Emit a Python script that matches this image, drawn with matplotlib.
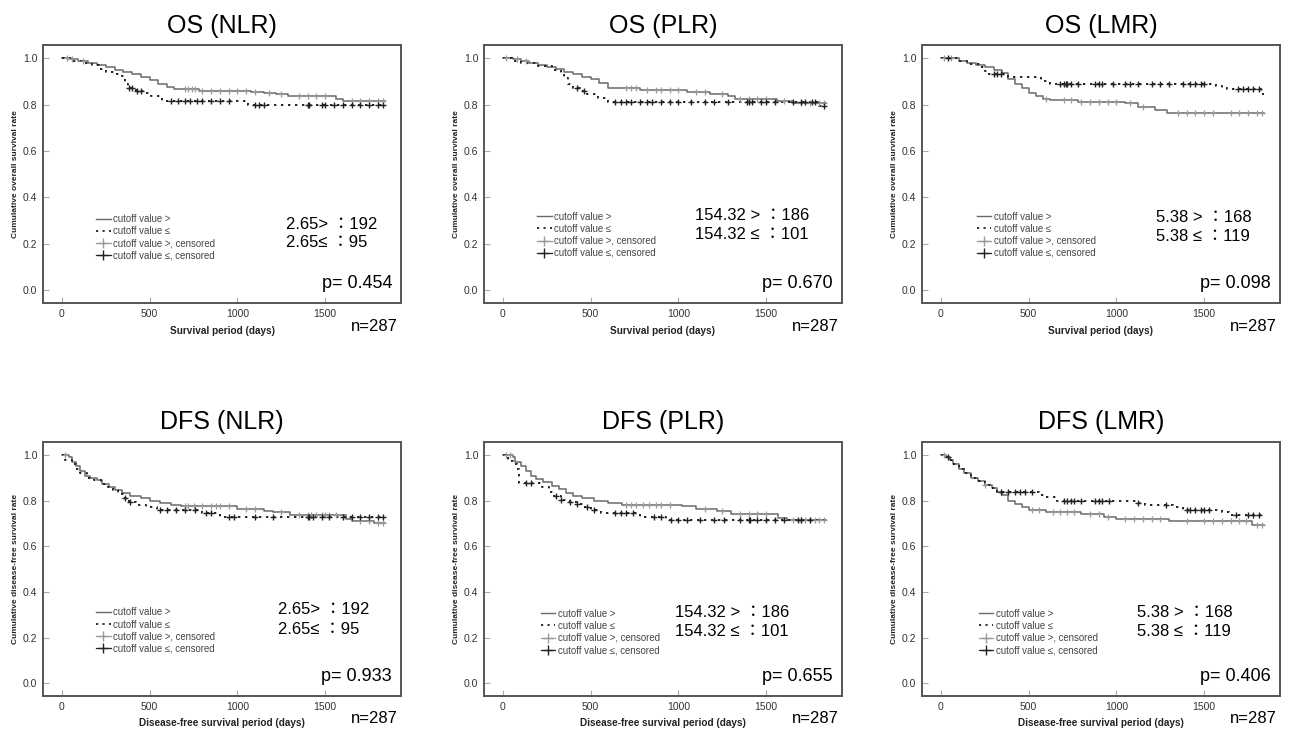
import numpy as np
import matplotlib
matplotlib.use("Agg")
import matplotlib.pyplot as plt
from matplotlib.lines import Line2D

plt.rcParams['font.family'] = ['Liberation Sans', 'DejaVu Sans']

# ---------------- data ----------------
titles = ["OS (NLR)", "OS (PLR)", "OS (LMR)", "DFS (NLR)", "DFS (PLR)", "DFS (LMR)"]
xlabels = ["Survival period (days)"] * 3 + ["Disease-free survival period (days)"] * 3
ylabels = ["Cumulative overall survival rate"] * 3 + ["Cumulative disease-free survival rate"] * 3
group_hi = ["2.65> ：192", "154.32 > ：186", "5.38 > ：168",
            "2.65> ：192", "154.32 > ：186", "5.38 > ：168"]
group_lo = ["2.65≤ ：95", "154.32 ≤ ：101", "5.38 ≤ ：119",
            "2.65≤ ：95", "154.32 ≤ ：101", "5.38 ≤ ：119"]
pvals = ["p= 0.454", "p= 0.670", "p= 0.098", "p= 0.933", "p= 0.655", "p= 0.406"]
n_text = "n=287"
legend_labels = ["cutoff value >", "cutoff value ≤",
                 "cutoff value >, censored", "cutoff value ≤, censored"]
x_ticks = [0, 500, 1000, 1500]
y_ticks = [0.0, 0.2, 0.4, 0.6, 0.8, 1.0]
follow_end = 1840

# OS NLR
os_nlr_hi_t = [40, 90, 150, 200, 250, 300, 350, 400, 450, 500, 550, 600, 640, 780, 1080, 1150, 1220, 1290, 1560, 1600]
os_nlr_hi_s = [0.995, 0.99, 0.98, 0.97, 0.96, 0.95, 0.94, 0.93, 0.92, 0.905, 0.89, 0.875, 0.866, 0.86, 0.855, 0.85, 0.845, 0.835, 0.825, 0.815]
os_nlr_hi_c = [30, 60, 120, 700, 720, 740, 760, 800, 850, 900, 950, 1000, 1050, 1100, 1180, 1250, 1350, 1400, 1450, 1500, 1650, 1700, 1750, 1800, 1830]
os_nlr_lo_t = [60, 120, 170, 210, 250, 300, 340, 360, 375, 420, 470, 510, 570, 1060]
os_nlr_lo_s = [0.99, 0.98, 0.97, 0.955, 0.94, 0.93, 0.925, 0.89, 0.87, 0.86, 0.85, 0.835, 0.815, 0.797]
os_nlr_lo_c = [380, 400, 430, 450, 620, 660, 700, 730, 770, 800, 850, 900, 950, 1100, 1120, 1150, 1400, 1410, 1480, 1500, 1550, 1600, 1650, 1700, 1750, 1800, 1830]

# OS PLR
os_plr_hi_t = [60, 100, 150, 200, 250, 300, 350, 400, 450, 500, 550, 600, 780, 1050, 1180, 1280, 1320, 1560, 1650]
os_plr_hi_s = [0.995, 0.99, 0.98, 0.97, 0.96, 0.955, 0.94, 0.93, 0.92, 0.91, 0.895, 0.87, 0.865, 0.855, 0.845, 0.835, 0.826, 0.815, 0.808]
os_plr_hi_c = [20, 80, 130, 700, 730, 760, 820, 870, 900, 950, 1000, 1100, 1150, 1250, 1350, 1400, 1450, 1500, 1600, 1700, 1750, 1800, 1830]
os_plr_lo_t = [50, 100, 200, 280, 330, 350, 370, 400, 440, 480, 540, 600, 1800]
os_plr_lo_s = [0.99, 0.98, 0.965, 0.95, 0.935, 0.915, 0.89, 0.87, 0.86, 0.845, 0.83, 0.812, 0.795]
os_plr_lo_c = [420, 460, 640, 670, 700, 730, 780, 820, 850, 900, 950, 1000, 1070, 1150, 1200, 1280, 1390, 1400, 1420, 1470, 1500, 1550, 1650, 1700, 1720, 1760, 1780, 1830]

# OS LMR
os_lmr_hi_t = [100, 150, 200, 250, 300, 350, 380, 420, 460, 500, 540, 580, 620, 780, 1050, 1120, 1220, 1290]
os_lmr_hi_s = [0.99, 0.98, 0.97, 0.96, 0.95, 0.935, 0.91, 0.89, 0.87, 0.85, 0.835, 0.825, 0.818, 0.812, 0.805, 0.79, 0.775, 0.765]
os_lmr_hi_c = [20, 60, 600, 700, 740, 800, 850, 900, 950, 1000, 1080, 1150, 1350, 1400, 1450, 1500, 1550, 1650, 1700, 1750, 1800, 1830]
os_lmr_lo_t = [100, 150, 220, 250, 270, 380, 570, 620, 1570, 1600, 1630, 1825]
os_lmr_lo_s = [0.99, 0.975, 0.96, 0.945, 0.932, 0.92, 0.9, 0.89, 0.88, 0.87, 0.867, 0.845]
os_lmr_lo_c = [40, 300, 320, 340, 680, 700, 710, 720, 740, 780, 880, 900, 920, 980, 1050, 1080, 1120, 1200, 1250, 1300, 1380, 1420, 1450, 1480, 1500, 1690, 1720, 1750, 1780, 1810]

# DFS NLR
dfs_nlr_hi_t = [40, 60, 80, 100, 130, 160, 200, 230, 270, 300, 340, 390, 450, 500, 560, 620, 680, 1000, 1150, 1200, 1300, 1620, 1650, 1780]
dfs_nlr_hi_s = [0.99, 0.97, 0.95, 0.93, 0.91, 0.9, 0.89, 0.875, 0.86, 0.845, 0.835, 0.82, 0.81, 0.8, 0.79, 0.78, 0.775, 0.765, 0.755, 0.75, 0.735, 0.72, 0.71, 0.70]
dfs_nlr_hi_c = [20, 700, 720, 750, 800, 850, 880, 900, 950, 1050, 1100, 1250, 1350, 1400, 1420, 1450, 1480, 1500, 1520, 1560, 1700, 1750, 1800, 1830]
dfs_nlr_lo_t = [20, 60, 80, 100, 140, 180, 220, 260, 290, 320, 350, 380, 420, 480, 540, 800, 900]
dfs_nlr_lo_s = [0.98, 0.96, 0.94, 0.92, 0.9, 0.89, 0.875, 0.86, 0.845, 0.83, 0.81, 0.795, 0.78, 0.77, 0.76, 0.745, 0.73]
dfs_nlr_lo_c = [360, 390, 560, 600, 650, 700, 760, 820, 850, 950, 980, 1100, 1200, 1400, 1410, 1430, 1480, 1520, 1600, 1650, 1700, 1750, 1800, 1830]

# DFS PLR
dfs_plr_hi_t = [60, 70, 100, 130, 160, 190, 230, 280, 320, 360, 400, 450, 520, 600, 680, 1020, 1100, 1220, 1300, 1570, 1620]
dfs_plr_hi_s = [0.99, 0.97, 0.95, 0.93, 0.91, 0.895, 0.88, 0.865, 0.85, 0.835, 0.82, 0.81, 0.8, 0.79, 0.783, 0.775, 0.765, 0.755, 0.74, 0.725, 0.715]
dfs_plr_hi_c = [20, 40, 700, 730, 760, 800, 830, 870, 900, 950, 1150, 1250, 1350, 1400, 1450, 1500, 1650, 1700, 1720, 1750, 1780, 1800, 1830]
dfs_plr_lo_t = [10, 30, 60, 80, 90, 220, 260, 290, 330, 380, 420, 460, 500, 560, 780, 930]
dfs_plr_lo_s = [0.99, 0.975, 0.96, 0.94, 0.876, 0.86, 0.84, 0.82, 0.805, 0.795, 0.785, 0.77, 0.76, 0.745, 0.73, 0.715]
dfs_plr_lo_c = [130, 160, 300, 330, 380, 420, 480, 520, 640, 670, 700, 740, 860, 900, 960, 1000, 1050, 1120, 1200, 1260, 1350, 1400, 1410, 1450, 1500, 1550, 1600, 1680, 1700, 1750]

# DFS LMR
dfs_lmr_hi_t = [30, 50, 70, 100, 130, 170, 210, 250, 290, 320, 350, 380, 420, 460, 500, 600, 800, 930, 1000, 1300, 1770]
dfs_lmr_hi_s = [0.99, 0.98, 0.96, 0.94, 0.92, 0.9, 0.885, 0.87, 0.855, 0.838, 0.825, 0.8, 0.785, 0.77, 0.76, 0.75, 0.74, 0.73, 0.72, 0.71, 0.695]
dfs_lmr_hi_c = [20, 250, 520, 560, 640, 680, 720, 760, 850, 900, 950, 1050, 1100, 1150, 1200, 1250, 1400, 1500, 1550, 1600, 1650, 1700, 1740, 1800, 1830]
dfs_lmr_lo_t = [30, 50, 70, 100, 130, 170, 210, 250, 290, 320, 560, 600, 660, 1110, 1160, 1320, 1380, 1600, 1640]
dfs_lmr_lo_s = [0.99, 0.98, 0.96, 0.94, 0.92, 0.9, 0.885, 0.87, 0.855, 0.838, 0.825, 0.815, 0.8, 0.79, 0.78, 0.77, 0.76, 0.75, 0.735]
dfs_lmr_lo_c = [40, 340, 380, 420, 450, 480, 520, 700, 720, 740, 760, 800, 880, 900, 920, 960, 1120, 1280, 1400, 1420, 1450, 1480, 1500, 1530, 1680, 1750, 1780, 1810]

panels = [
    (os_nlr_hi_t, os_nlr_hi_s, os_nlr_hi_c, os_nlr_lo_t, os_nlr_lo_s, os_nlr_lo_c),
    (os_plr_hi_t, os_plr_hi_s, os_plr_hi_c, os_plr_lo_t, os_plr_lo_s, os_plr_lo_c),
    (os_lmr_hi_t, os_lmr_hi_s, os_lmr_hi_c, os_lmr_lo_t, os_lmr_lo_s, os_lmr_lo_c),
    (dfs_nlr_hi_t, dfs_nlr_hi_s, dfs_nlr_hi_c, dfs_nlr_lo_t, dfs_nlr_lo_s, dfs_nlr_lo_c),
    (dfs_plr_hi_t, dfs_plr_hi_s, dfs_plr_hi_c, dfs_plr_lo_t, dfs_plr_lo_s, dfs_plr_lo_c),
    (dfs_lmr_hi_t, dfs_lmr_hi_s, dfs_lmr_hi_c, dfs_lmr_lo_t, dfs_lmr_lo_s, dfs_lmr_lo_c),
]

# ---------------- drawing ----------------
W, H = 1289, 733
fig = plt.figure(figsize=(W / 100, H / 100), dpi=100)

col_left = [43, 484, 922]
ax_w = 358
row_top = [45, 442]
row_h = [258, 254]
# text anchor positions (axes fraction) per panel
num_pos = [(0.68, 0.306, 0.233), (0.59, 0.341, 0.264), (0.655, 0.333, 0.256),
           (0.656, 0.339, 0.260), (0.534, 0.330, 0.255), (0.60, 0.330, 0.255)]
leg_pos = [(0.13, 0.37), (0.13, 0.38), (0.135, 0.38),
           (0.13, 0.375), (0.14, 0.37), (0.14, 0.37)]

HI_COL = "#6a6a6a"
LO_COL = "#222222"
HI_CENS = "#9a9a9a"
FRAME = "#555555"


def step_xy(times, surv):
    x = np.concatenate([[0], times, [follow_end]])
    y = np.concatenate([[1.0], surv, [surv[-1]]])
    return x, y


def surv_at(times, surv, t):
    times = np.asarray(times)
    surv = np.asarray(surv)
    idx = np.searchsorted(times, t, side="right") - 1
    return np.where(idx < 0, 1.0, surv[np.clip(idx, 0, None)])


txt_fam = ['Liberation Sans', 'Noto Sans CJK JP', 'DejaVu Sans']

for i, (ht, hs, hc, lt, ls, lc) in enumerate(panels):
    r, c = divmod(i, 3)
    left = col_left[c] / W
    bottom = (H - row_top[r] - row_h[r]) / H
    ax = fig.add_axes([left, bottom, ax_w / W, row_h[r] / H])

    hx, hy = step_xy(ht, hs)
    lx, ly = step_xy(lt, ls)
    ax.step(hx, hy, where="post", color=HI_COL, lw=1.1)
    ax.step(lx, ly, where="post", color=LO_COL, lw=1.4, linestyle=(0, (1.2, 2.4)))
    ax.plot(hc, surv_at(ht, hs, hc), linestyle="none", marker="+", ms=5, mew=0.9, color=HI_CENS)
    ax.plot(lc, surv_at(lt, ls, lc), linestyle="none", marker="+", ms=5, mew=1.0, color=LO_COL)

    ax.set_xlim(-108, 1932)
    ax.set_ylim(-0.056, 1.057)
    ax.set_xticks(x_ticks)
    ax.set_yticks(y_ticks)
    ax.set_yticklabels([f"{v:.1f}" for v in y_ticks])
    ax.tick_params(direction="in", length=4, width=0.8, color="#aaaaaa",
                   labelsize=7.5, labelcolor="#333333", pad=4)
    for s in ax.spines.values():
        s.set_color(FRAME)
        s.set_linewidth(1.4)

    ax.set_xlabel(xlabels[i], fontsize=7.2, fontweight="bold", labelpad=5, color="#222222")
    ax.set_ylabel(ylabels[i], fontsize=6, fontweight="bold", labelpad=3, color="#222222")
    ax.set_title(titles[i], fontsize=18, pad=9)

    handles = [
        Line2D([], [], color=HI_COL, lw=1.0),
        Line2D([], [], color=LO_COL, lw=1.3, linestyle=(0, (1.2, 2.4))),
        Line2D([], [], color=HI_CENS, lw=0.9, marker="+", ms=7),
        Line2D([], [], color=LO_COL, lw=0.9, marker="+", ms=7),
    ]
    ax.legend(handles, legend_labels, loc="upper left", bbox_to_anchor=leg_pos[i],
              frameon=False, fontsize=6.9, handlelength=1.5, handletextpad=0.25,
              labelspacing=0.22, borderpad=0.2, labelcolor="#444444")

    nx, ny1, ny2 = num_pos[i]
    ax.text(nx, ny1, group_hi[i], transform=ax.transAxes,
            fontsize=12, va="center", ha="left", family=txt_fam)
    ax.text(nx, ny2, group_lo[i], transform=ax.transAxes,
            fontsize=12, va="center", ha="left", family=txt_fam)
    ax.text(0.975, 0.075, pvals[i], transform=ax.transAxes, fontsize=13,
            va="center", ha="right")
    ax.text(0.99, -0.09, n_text, transform=ax.transAxes, fontsize=12,
            va="center", ha="right")

fig.savefig("out.png", dpi=100, facecolor="white")
